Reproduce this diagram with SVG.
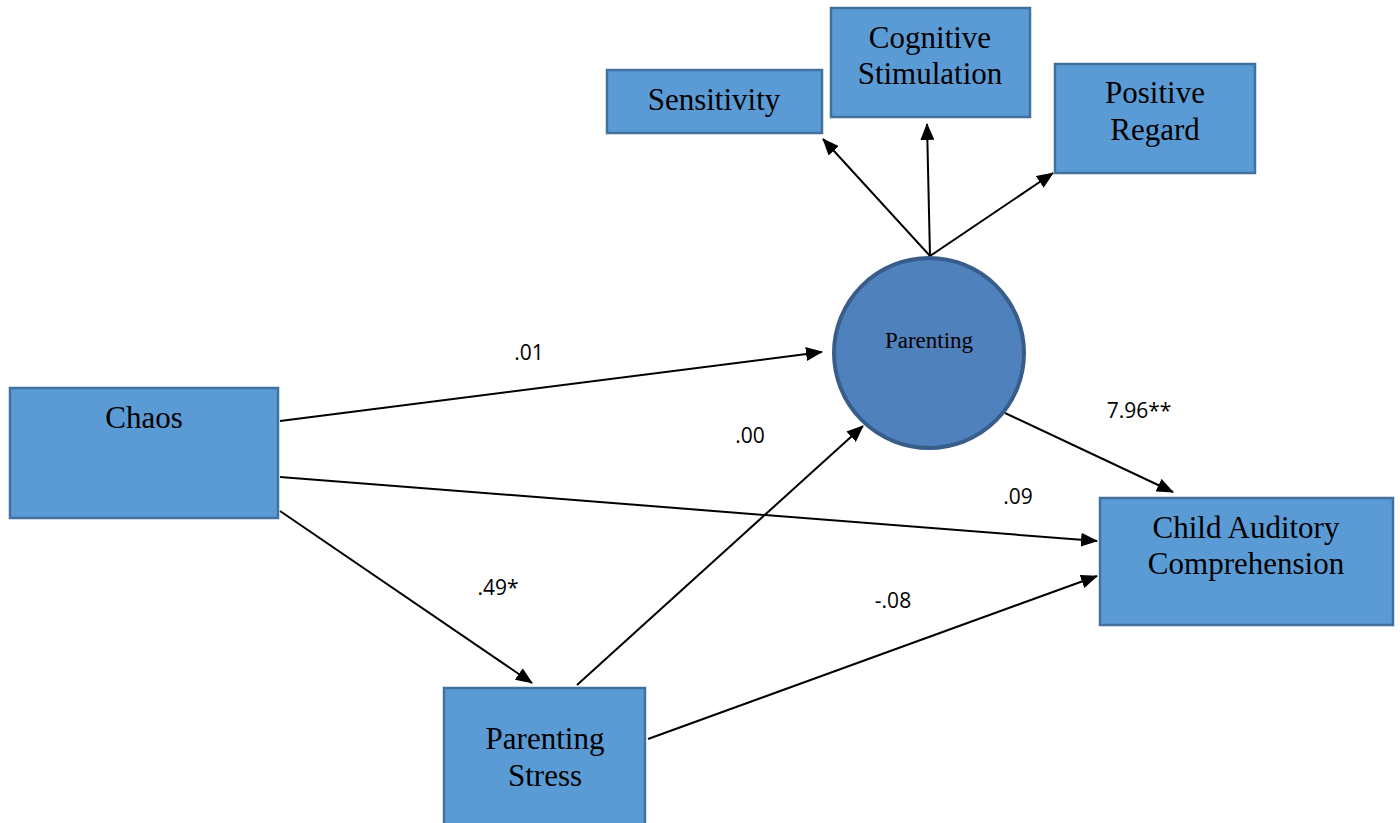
<svg xmlns="http://www.w3.org/2000/svg" width="1400" height="823" viewBox="0 0 1400 823">
<defs>
<marker id="ah" markerUnits="userSpaceOnUse" markerWidth="18" markerHeight="14" refX="16" refY="7" orient="auto">
<path d="M0,0 L17,7 L0,14 Z" fill="#000"/>
</marker>
<style>
.box{fill:#5B9BD5;stroke:#41719C;stroke-width:2.5}
.circ{fill:#4F81BD;stroke:#385D8A;stroke-width:4}
.t{font-family:"Liberation Serif","Times New Roman",serif;font-size:31px;fill:#000;text-anchor:middle}
.lab{font-family:"Open Sans","Liberation Sans",Arial,sans-serif;font-size:21px;fill:#000;text-anchor:middle}
.c{stroke:#000;stroke-width:2;fill:none;marker-end:url(#ah)}
</style>
</defs>
<rect width="1400" height="823" fill="#fff"/>
<g id="connectors">
<line class="c" x1="930" y1="256" x2="823" y2="139"/>
<line class="c" x1="930" y1="256" x2="927" y2="124"/>
<line class="c" x1="930" y1="256" x2="1053" y2="173"/>
<line class="c" x1="280" y1="421" x2="822" y2="352"/>
<line class="c" x1="280" y1="477" x2="1097" y2="541"/>
<line class="c" x1="280" y1="511" x2="532" y2="683"/>
<line class="c" x1="577" y1="685" x2="863" y2="426"/>
<line class="c" x1="648" y1="739" x2="1097" y2="576"/>
<line class="c" x1="1005" y1="413" x2="1173" y2="492"/>
<text class="lab" x="529" y="360">.01</text>
<text class="lab" x="1018" y="504">.09</text>
<text class="lab" x="498" y="595">.49*</text>
<text class="lab" x="750" y="443">.00</text>
<text class="lab" x="893" y="608">-.08</text>
<text class="lab" x="1139" y="418">7.96**</text>
</g>
<g id="sensitivity">
<rect class="box" x="607" y="70" width="215" height="63"/>
<text class="t" x="714" y="110">Sensitivity</text>
</g>
<g id="cognitive">
<rect class="box" x="831" y="8" width="199" height="109"/>
<text class="t" x="930" y="48">Cognitive</text>
<text class="t" x="930" y="84">Stimulation</text>
</g>
<g id="positive">
<rect class="box" x="1055" y="64" width="200" height="109"/>
<text class="t" x="1155" y="103">Positive</text>
<text class="t" x="1155" y="140">Regard</text>
</g>
<g id="parenting">
<circle class="circ" cx="929" cy="353" r="95"/>
<text class="t" x="929" y="348" style="font-size:23px">Parenting</text>
</g>
<g id="chaos">
<rect class="box" x="10" y="388" width="268" height="130"/>
<text class="t" x="144" y="428">Chaos</text>
</g>
<g id="stress">
<rect class="box" x="444" y="688" width="201" height="140"/>
<text class="t" x="545" y="749">Parenting</text>
<text class="t" x="545" y="786">Stress</text>
</g>
<g id="cac">
<rect class="box" x="1100" y="498" width="293" height="127"/>
<text class="t" x="1246" y="538">Child Auditory</text>
<text class="t" x="1246" y="574">Comprehension</text>
</g>
</svg>
